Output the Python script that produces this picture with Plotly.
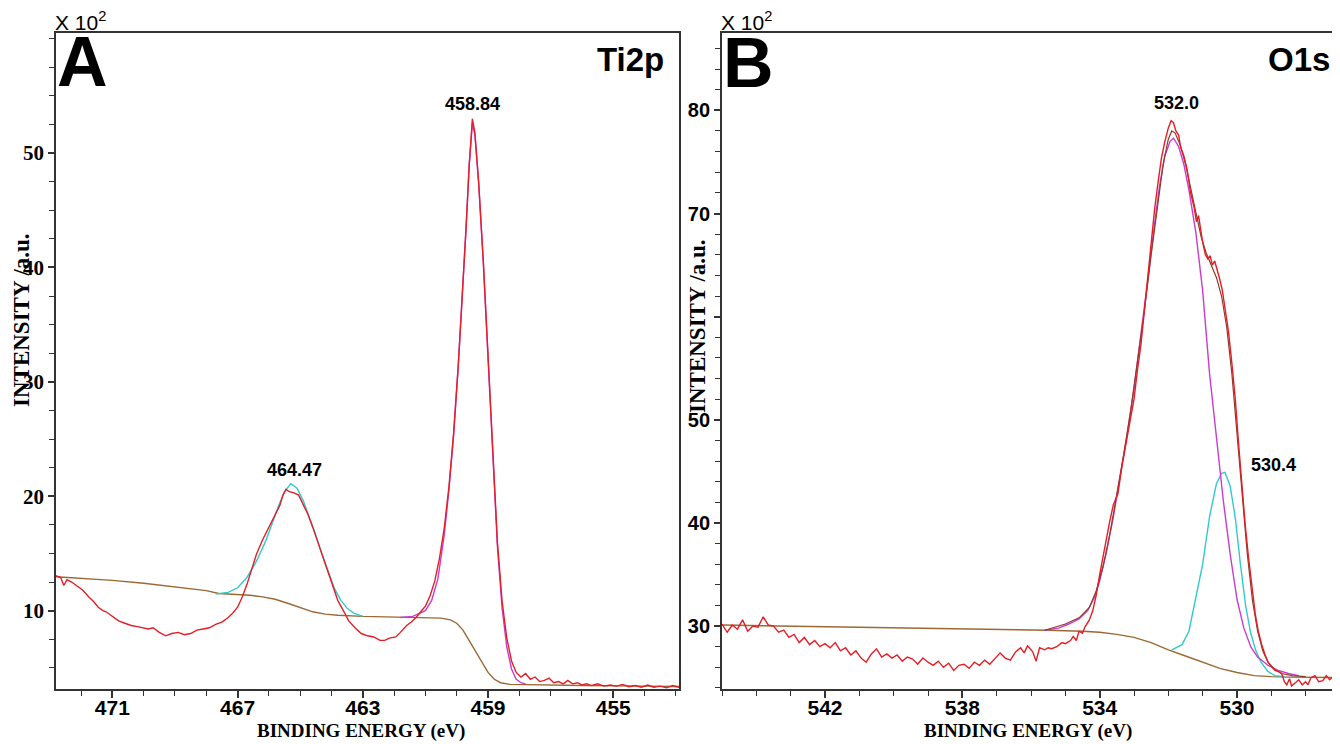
import plotly.graph_objects as go

# ---------------- panel A : Ti2p ----------------
a_red_e = [473.0, 472.85, 472.65, 472.55, 472.45, 472.3, 472.15, 471.95, 471.75, 471.6, 471.45, 471.3,
           471.2, 471.0, 470.8, 470.6, 470.4, 470.2, 470.0, 469.85, 469.7, 469.5, 469.3, 469.1, 468.9,
           468.7, 468.5, 468.3, 468.1, 467.9, 467.7, 467.5, 467.3, 467.15, 467.0, 466.85, 466.7, 466.55,
           466.4, 466.2, 466.0, 465.8, 465.65, 465.55, 465.45, 465.35, 465.2, 465.05, 464.9, 464.75,
           464.6, 464.45, 464.3, 464.15, 463.95, 463.8, 463.6, 463.45, 463.25, 463.05, 462.85, 462.65,
           462.45, 462.3, 462.15, 461.95, 461.8, 461.6, 461.45, 461.3, 461.15, 461.0, 460.85, 460.7,
           460.55, 460.4, 460.25, 460.1, 459.95, 459.8, 459.7, 459.6, 459.5, 459.42, 459.3, 459.15,
           459.0, 458.85, 458.7, 458.55, 458.4, 458.25, 458.1, 457.95, 457.8, 457.65, 457.5, 457.35,
           457.2, 457.05, 456.9, 456.75, 456.6, 456.45, 456.3, 456.15, 456.0, 455.85, 455.7, 455.5,
           455.3, 455.1, 454.9, 454.7, 454.5, 454.3, 454.1, 453.9, 453.7, 453.5, 453.3, 453.1, 452.9,
           452.7, 452.5]
a_red_i = [12.95, 13.1, 12.9, 12.2, 12.7, 12.5, 12.2, 11.8, 11.2, 10.8, 10.3, 10.0,
           9.9, 9.5, 9.1, 8.9, 8.7, 8.6, 8.5, 8.4, 8.5, 8.1, 7.8, 8.0, 8.1,
           7.9, 8.0, 8.3, 8.4, 8.5, 8.8, 9.0, 9.4, 9.8, 10.3, 11.2, 12.3, 13.6,
           14.9, 16.2, 17.3, 18.3, 19.2, 20.1, 20.6, 20.4, 20.3, 20.1, 19.3, 18.4,
           17.3, 16.1, 14.8, 13.5, 12.0, 10.9, 9.9, 9.1, 8.5, 8.0, 7.8, 7.7,
           7.4, 7.4, 7.6, 7.7, 8.1, 8.7, 9.0, 9.4, 9.9, 10.4, 11.3, 12.6,
           14.6, 17.2, 20.8, 25.5, 31.5, 38.5, 43.5, 49.0, 53.0, 51.8, 47.5, 40.5,
           32.0, 23.5, 16.0, 10.8, 7.6, 5.6, 4.6, 4.2, 4.5, 4.0, 4.2, 3.8,
           3.9, 4.1, 3.7, 3.8, 3.6, 3.9, 3.6, 3.7, 3.5, 3.6, 3.45, 3.6,
           3.4, 3.5, 3.4, 3.55, 3.35, 3.45, 3.3, 3.5, 3.3, 3.4, 3.25, 3.45, 3.3,
           3.25, 3.4]

a_bg_e = [473.0, 472.0, 471.0, 470.0, 469.0, 468.0, 467.6, 467.0, 466.6, 466.2, 465.8, 465.4, 465.0,
          464.6, 464.2, 463.8, 463.0, 462.0, 461.0, 460.5, 460.2, 460.0, 459.8, 459.6, 459.4, 459.2,
          459.0, 458.8, 458.6, 458.3, 457.5, 456.0, 454.0, 452.5]
a_bg_i = [13.0, 12.85, 12.65, 12.4, 12.1, 11.75, 11.5, 11.4, 11.35, 11.2, 11.0, 10.65, 10.25,
          9.9, 9.7, 9.6, 9.5, 9.45, 9.4, 9.35, 9.2, 8.9, 8.3, 7.4, 6.5, 5.5,
          4.6, 4.0, 3.7, 3.55, 3.5, 3.45, 3.4, 3.35]

a_cy_e = [467.7, 467.3, 467.0, 466.7, 466.4, 466.1, 465.9, 465.7, 465.5, 465.3, 465.1, 464.9, 464.7,
          464.5, 464.3, 464.1, 463.9, 463.7, 463.5, 463.3, 463.0]
a_cy_i = [11.45, 11.6, 12.0, 12.9, 14.3, 16.1, 17.6, 19.1, 20.4, 21.1, 20.7, 19.6, 18.1,
          16.6, 14.9, 13.3, 11.9, 10.9, 10.2, 9.8, 9.5]

a_mg_e = [461.8, 461.4, 461.0, 460.8, 460.6, 460.4, 460.25, 460.1, 459.95, 459.8, 459.7, 459.6,
          459.5, 459.42, 459.3, 459.15, 459.0, 458.85, 458.7, 458.55, 458.4, 458.25, 458.1, 457.95,
          457.8]
a_mg_i = [9.4, 9.5, 10.0, 10.9, 12.8, 16.6, 20.5, 25.3, 31.4, 38.4, 43.6, 49.0,
          52.6, 51.6, 47.4, 40.4, 31.8, 23.2, 15.6, 10.2, 6.8, 4.9, 4.0, 3.7,
          3.6]

# ---------------- panel B : O1s ----------------
b_red_e = [545.0, 544.85, 544.7, 544.55, 544.4, 544.25, 544.1, 543.95, 543.8, 543.65, 543.5, 543.35,
           543.2, 543.05, 542.9, 542.75, 542.6, 542.45, 542.3, 542.15, 542.0, 541.85, 541.7, 541.55,
           541.4, 541.25, 541.1, 540.95, 540.8, 540.65, 540.5, 540.35, 540.2, 540.05, 539.9, 539.75,
           539.6, 539.45, 539.3, 539.15, 539.0, 538.85, 538.7, 538.55, 538.4, 538.25, 538.1, 537.95,
           537.8, 537.65, 537.5, 537.35, 537.2, 537.05, 536.9, 536.75, 536.6, 536.45, 536.3, 536.2,
           536.1, 535.95, 535.85, 535.75, 535.6, 535.5, 535.4, 535.25, 535.1, 535.0, 534.85, 534.77,
           534.68, 534.6, 534.5, 534.43, 534.3, 534.2, 534.1, 534.0, 533.85, 533.71, 533.6, 533.47,
           533.35, 533.23, 533.1, 533.0, 532.9, 532.8, 532.7, 532.6, 532.5, 532.4, 532.3, 532.2,
           532.1, 532.0, 531.92, 531.85, 531.78, 531.7, 531.64, 531.55, 531.45, 531.35, 531.25,
           531.18, 531.12, 531.05, 531.0, 530.92, 530.85, 530.78, 530.72, 530.65, 530.58, 530.5,
           530.43, 530.35, 530.25, 530.15, 530.05, 529.95, 529.86, 529.76, 529.66, 529.56, 529.47,
           529.38, 529.28, 529.18, 529.08, 528.98, 528.89, 528.8, 528.7, 528.62, 528.55, 528.47,
           528.41, 528.3, 528.2, 528.1, 528.0, 527.93, 527.85, 527.73, 527.62, 527.5, 527.4, 527.3,
           527.2, 527.1, 527.0]
b_red_i = [30.2, 29.4, 30.1, 29.7, 30.6, 29.5, 30.0, 29.9, 30.9, 30.1, 30.0, 29.4,
           29.6, 28.9, 29.2, 28.4, 28.9, 28.2, 28.6, 28.0, 28.3, 27.9, 28.4, 27.6,
           27.9, 27.2, 27.6, 26.9, 26.5, 27.3, 27.8, 27.0, 27.3, 26.9, 27.2, 26.6,
           27.0, 26.8, 26.3, 26.9, 26.5, 26.2, 26.6, 26.0, 26.4, 25.7, 26.2, 26.3,
           25.9, 26.5, 26.2, 26.7, 26.3, 26.8, 27.4, 26.9, 26.7, 27.5, 27.9, 27.4,
           28.1, 27.5, 26.6, 27.9, 27.7, 27.9, 27.8, 28.0, 28.4, 28.3, 28.6, 29.0,
           28.6, 29.5, 29.3, 29.9, 30.6, 31.5, 33.0, 35.0, 37.8, 40.1, 41.8, 42.8,
           45.5, 47.8, 50.2, 52.0, 54.8, 57.2, 60.5, 64.0, 67.3, 70.4, 73.0, 75.4,
           77.0, 78.3, 79.0, 78.8, 78.0, 77.6, 76.4, 75.6, 74.2, 72.0, 70.6,
           69.2, 69.8, 68.0, 67.2, 66.0, 65.6, 65.9, 65.0, 65.4, 64.6, 63.6,
           62.6, 61.0, 58.6, 55.5, 52.0, 47.5, 43.6, 39.8, 36.5, 33.6, 31.2,
           29.5, 28.2, 27.2, 26.4, 26.0, 25.7, 25.6, 25.4, 24.6, 24.3, 24.9,
           24.2, 24.5, 24.8, 24.3, 24.6, 24.3, 25.0, 25.2, 24.6, 24.7, 25.2, 24.8,
           25.1, 25.4, 25.3]

b_bg_e = [545.0, 543.0, 541.0, 539.0, 537.0, 535.5, 534.5, 534.0, 533.5, 533.0, 532.5, 532.0, 531.5,
          531.0, 530.5, 530.0, 529.5, 529.0, 528.5, 527.0]
b_bg_i = [30.1, 30.0, 29.9, 29.8, 29.7, 29.6, 29.5, 29.4, 29.2, 28.9, 28.4, 27.7, 27.1,
          26.5, 25.9, 25.5, 25.2, 25.1, 25.05, 25.0]

b_cy_e = [531.9, 531.6, 531.4, 531.2, 531.0, 530.8, 530.6, 530.45, 530.35, 530.2, 530.05, 529.9,
          529.75, 529.6, 529.45, 529.3, 529.1, 528.9, 528.6]
b_cy_i = [27.7, 28.2, 29.5, 32.6, 36.0, 40.6, 43.8, 44.8, 44.9, 43.6, 40.5, 36.0,
          32.0, 29.3, 27.6, 26.5, 25.6, 25.2, 25.1]

b_mg_e = [535.6, 535.2, 534.9, 534.6, 534.35, 534.15, 534.0, 533.8, 533.6, 533.4, 533.2, 533.0,
          532.8, 532.6, 532.4, 532.25, 532.1, 531.95, 531.85, 531.7, 531.55, 531.4, 531.2, 531.0,
          530.8, 530.6, 530.5, 530.4, 530.2, 530.0, 529.8, 529.6, 529.4, 529.1, 528.8, 528.5, 528.2]
b_mg_i = [29.6, 29.8, 30.2, 30.7, 31.5, 32.8, 34.4, 37.2, 40.6, 44.5, 48.6, 53.0,
          58.0, 63.5, 69.0, 72.8, 75.6, 77.0, 77.3, 76.5, 74.8, 72.3, 68.2, 62.5,
          54.5, 48.0, 45.0, 42.2, 37.0, 32.6, 29.8, 28.0, 27.0, 26.2, 25.7, 25.4, 25.2]

b_env_e = [535.6, 535.0, 534.6, 534.3, 534.1, 533.9, 533.7, 533.5, 533.3, 533.1, 532.9, 532.7,
           532.5, 532.3, 532.15, 532.0, 531.9, 531.8, 531.65, 531.5, 531.35, 531.2, 531.05, 530.9,
           530.75, 530.6, 530.45, 530.3, 530.15, 530.0, 529.85, 529.7, 529.55, 529.4, 529.25, 529.1,
           528.9, 528.7, 528.4, 528.0]
b_env_i = [29.6, 30.2, 30.8, 31.8, 33.4, 35.8, 39.0, 42.6, 46.6, 50.8, 55.4, 60.5,
           66.0, 71.2, 74.8, 77.2, 78.0, 77.8, 76.6, 74.8, 72.5, 70.0, 67.8, 66.2,
           65.0, 63.8, 62.0, 59.0, 54.5, 48.5, 42.5, 37.0, 32.5, 29.5, 27.6, 26.5,
           25.8, 25.4, 25.2, 25.1]

a_peaks = ["458.84", "464.47"]
b_peaks = ["532.0", "530.4"]

RED = "#e41e26"
BROWN = "#9c6833"
CYAN = "#33c9cc"
MAGENTA = "#c83cd0"
ENV = "#8e3b2a"

W, H = 1340, 744
OFF = 8  # the page body adds an 8 px margin


def px(x):
    return (x - OFF) / W


def py(y):
    return 1 - (y - OFF) / H


fig = go.Figure()


def line(x, y, color, xa, ya, width=1.4):
    fig.add_trace(go.Scatter(x=x, y=y, mode="lines", xaxis=xa, yaxis=ya,
                             line=dict(color=color, width=width), showlegend=False,
                             hoverinfo="skip"))


line(a_bg_e, a_bg_i, BROWN, "x", "y")
line(a_cy_e, a_cy_i, CYAN, "x", "y")
line(a_mg_e, a_mg_i, MAGENTA, "x", "y")
line(a_red_e, a_red_i, RED, "x", "y")

line(b_bg_e, b_bg_i, BROWN, "x2", "y2")
line(b_cy_e, b_cy_i, CYAN, "x2", "y2")
line(b_mg_e, b_mg_i, MAGENTA, "x2", "y2")
line(b_env_e, b_env_i, ENV, "x2", "y2", 1.2)
line(b_red_e, b_red_i, RED, "x2", "y2")

AX = "#333333"
sans_b = dict(family="Liberation Sans, Arial", size=21, color="black", weight="bold")
serif_b = dict(family="Liberation Serif, Times New Roman", size=21, color="black", weight="bold")

ydom = [py(689), py(33)]

fig.update_layout(
    width=W, height=H, margin=dict(l=0, r=0, t=0, b=0),
    paper_bgcolor="white", plot_bgcolor="white", showlegend=False,
    xaxis=dict(domain=[px(56), px(679)], range=[472.8, 452.9], anchor="y",
               tickvals=[471, 467, 463, 459, 455], ticks="outside", ticklen=7, tickwidth=1.5,
               tickcolor=AX, showline=True, linecolor=AX, linewidth=1.8, mirror=True,
               showgrid=False, zeroline=False, tickfont=sans_b, ticklabelstandoff=-8,
               minor=dict(dtick=1, tick0=471, ticks="outside", ticklen=5, tickwidth=1.2,
                          tickcolor=AX, showgrid=False)),
    yaxis=dict(domain=ydom, range=[3.15, 60.5], anchor="x",
               tickvals=[10, 20, 30, 40, 50], ticks="outside", ticklen=6, tickwidth=1.5,
               tickcolor=AX, showline=True, linecolor=AX, linewidth=1.8, mirror=True,
               showgrid=False, zeroline=False, tickfont=serif_b, ticklabelstandoff=0,
               minor=dict(dtick=2.5, tick0=0, ticks="outside", ticklen=5, tickwidth=1.2,
                          tickcolor=AX, showgrid=False)),
    xaxis2=dict(domain=[px(722), px(1340)], range=[545, 527], anchor="y2",
                tickvals=[542, 538, 534, 530], ticks="outside", ticklen=7, tickwidth=1.5,
                tickcolor=AX, showline=True, linecolor=AX, linewidth=1.8, mirror=True,
                showgrid=False, zeroline=False, tickfont=sans_b, ticklabelstandoff=-8,
                minor=dict(dtick=1, tick0=530, ticks="outside", ticklen=5, tickwidth=1.2,
                           tickcolor=AX, showgrid=False)),
    yaxis2=dict(domain=ydom, range=[23.9, 87.5], anchor="x2",
                tickvals=[30, 40, 50, 60, 70, 80], ticktext=["30", "40", "50", " ", "70", "80"],
                ticks="outside", ticklen=6, tickwidth=1.5, tickcolor=AX,
                showline=True, linecolor=AX, linewidth=1.8, mirror=False,
                showgrid=False, zeroline=False, ticklabelstandoff=0,
                tickfont=dict(family="Liberation Sans, Arial", size=20, color="black", weight="bold"),
                minor=dict(dtick=2, tick0=0, ticks="outside", ticklen=5, tickwidth=1.2,
                           tickcolor=AX, showgrid=False)),
)


def note(text, x, y, size, family="Liberation Sans, Arial", bold=True, xanchor="center",
         yanchor="middle", angle=0):
    fig.add_annotation(text=text, x=px(x), y=py(y), xref="paper", yref="paper",
                       xanchor=xanchor, yanchor=yanchor, showarrow=False, textangle=angle,
                       font=dict(family=family, size=size, color="black",
                                 weight="bold" if bold else "normal"))


serif = "Liberation Serif, Times New Roman"

# multiplier labels
note("X 10<sup>2</sup>", 53, 36, 21, bold=False, xanchor="left", yanchor="bottom")
note("X 10<sup>2</sup>", 719, 36, 21, bold=False, xanchor="left", yanchor="bottom")

# panel letters and element labels
note("A", 82, 62, 70)
note("B", 748, 63, 70)
note("Ti2p", 666, 60, 33, xanchor="right")
note("O1s", 1332, 60, 33, xanchor="right")

# peak labels
note(a_peaks[0], 472, 104, 18)
note(a_peaks[1], 294, 470, 18)
note(b_peaks[0], 1176, 103, 18)
note(b_peaks[1], 1273, 465, 18)

# axis titles
note("BINDING ENERGY (eV)", 361, 731, 19, family=serif)
note("BINDING ENERGY (eV)", 1028, 731, 19, family=serif)
note("INTENSITY /a.u.", 21, 320, 23, family=serif, angle=-90)
note("INTENSITY /a.u.", 697, 326, 23, family=serif, angle=-90)

fig.write_html("out.html")
